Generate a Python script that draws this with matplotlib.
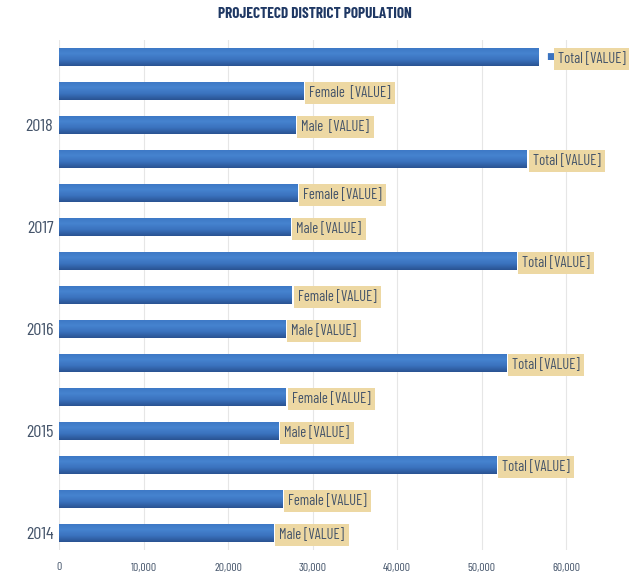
import matplotlib.pyplot as plt
import numpy as np
from matplotlib.colors import LinearSegmentedColormap

# data
years = ['2014', '2015', '2016', '2017', '2018']
male = [25330, 25920, 26750, 27340, 27930]
female = [26390, 26860, 27570, 28165, 28875]
total = [51720, 52900, 54080, 55380, 56690]
male_labels = ['Male [VALUE]', 'Male [VALUE]', 'Male [VALUE]', 'Male [VALUE]', 'Male  [VALUE]']
female_labels = ['Female [VALUE]', 'Female [VALUE]', 'Female [VALUE]', 'Female [VALUE]', 'Female  [VALUE]']
total_labels = ['Total [VALUE]'] * 5
xticks = [0, 10000, 20000, 30000, 40000, 50000, 60000]

font = ['Barlow Condensed', 'PT Sans Narrow', 'Roboto Condensed', 'DejaVu Sans']
plt.rcParams['font.family'] = font

text_col = '#44546A'
box_col = '#EDD8A3'

fig = plt.figure(figsize=(6.29, 5.76), dpi=100)
ax = fig.add_axes([59 / 629, 26 / 576, 1 - 59 / 629, 510 / 576])

# one row per bar: male, female, total for each year
vals, labels = [], []
for i in range(len(years)):
    vals += [male[i], female[i], total[i]]
    labels += [male_labels[i], female_labels[i], total_labels[i]]
ypos = np.arange(len(vals))

bars = ax.barh(ypos, vals, height=0.54, color='#3A73C0', zorder=2)

# gradient shading on each bar
cmap = LinearSegmentedColormap.from_list('bar', ['#2A5392', '#3A72BE', '#4683CF', '#3C77C4'])
grad = np.linspace(0, 1, 64).reshape(-1, 1)
for b in bars:
    x0, y0 = b.get_x(), b.get_y()
    im = ax.imshow(grad, extent=[x0, x0 + b.get_width(), y0, y0 + b.get_height()],
                   aspect='auto', cmap=cmap, origin='lower', zorder=3)
    im.set_clip_path(b)

for k, (v, y, lab) in enumerate(zip(vals, ypos, labels)):
    off = 4.5
    if k == len(vals) - 1:
        # legend key before the last label
        ax.annotate('■', (v, y), xytext=(8.5, 0), textcoords='offset points',
                    va='center', ha='center', fontsize=6.5, color='#3A73C0',
                    family=['DejaVu Sans'], annotation_clip=False)
        off = 14.5
    ax.annotate(lab, (v, y), xytext=(off, -1.5), textcoords='offset points',
                va='center', ha='left', fontsize=10.5, color=text_col,
                annotation_clip=False,
                bbox=dict(boxstyle='square,pad=0.3', fc=box_col, ec='none'))

ax.set_xlim(0, 67450)
ax.set_ylim(-0.5, len(vals) - 0.5)
ax.set_xticks(xticks)
ax.set_xticklabels([f'{t:,}' for t in xticks], fontsize=8.5, color=text_col)
ax.set_yticks(ypos[::3])
ax.set_yticklabels(years, fontsize=13, color=text_col)
ax.tick_params(length=0)
ax.tick_params(axis='x', pad=9)
ax.tick_params(axis='y', pad=4)
ax.grid(axis='x', color='#E6E6E6', lw=0.8, zorder=0)
for s in ax.spines.values():
    s.set_visible(False)

fig.text(0.5, 0.976, 'PROJECTECD DISTRICT POPULATION', ha='center', va='center',
         fontsize=11, fontweight='bold', color='#1F3864')

fig.savefig('out.png', dpi=100)
